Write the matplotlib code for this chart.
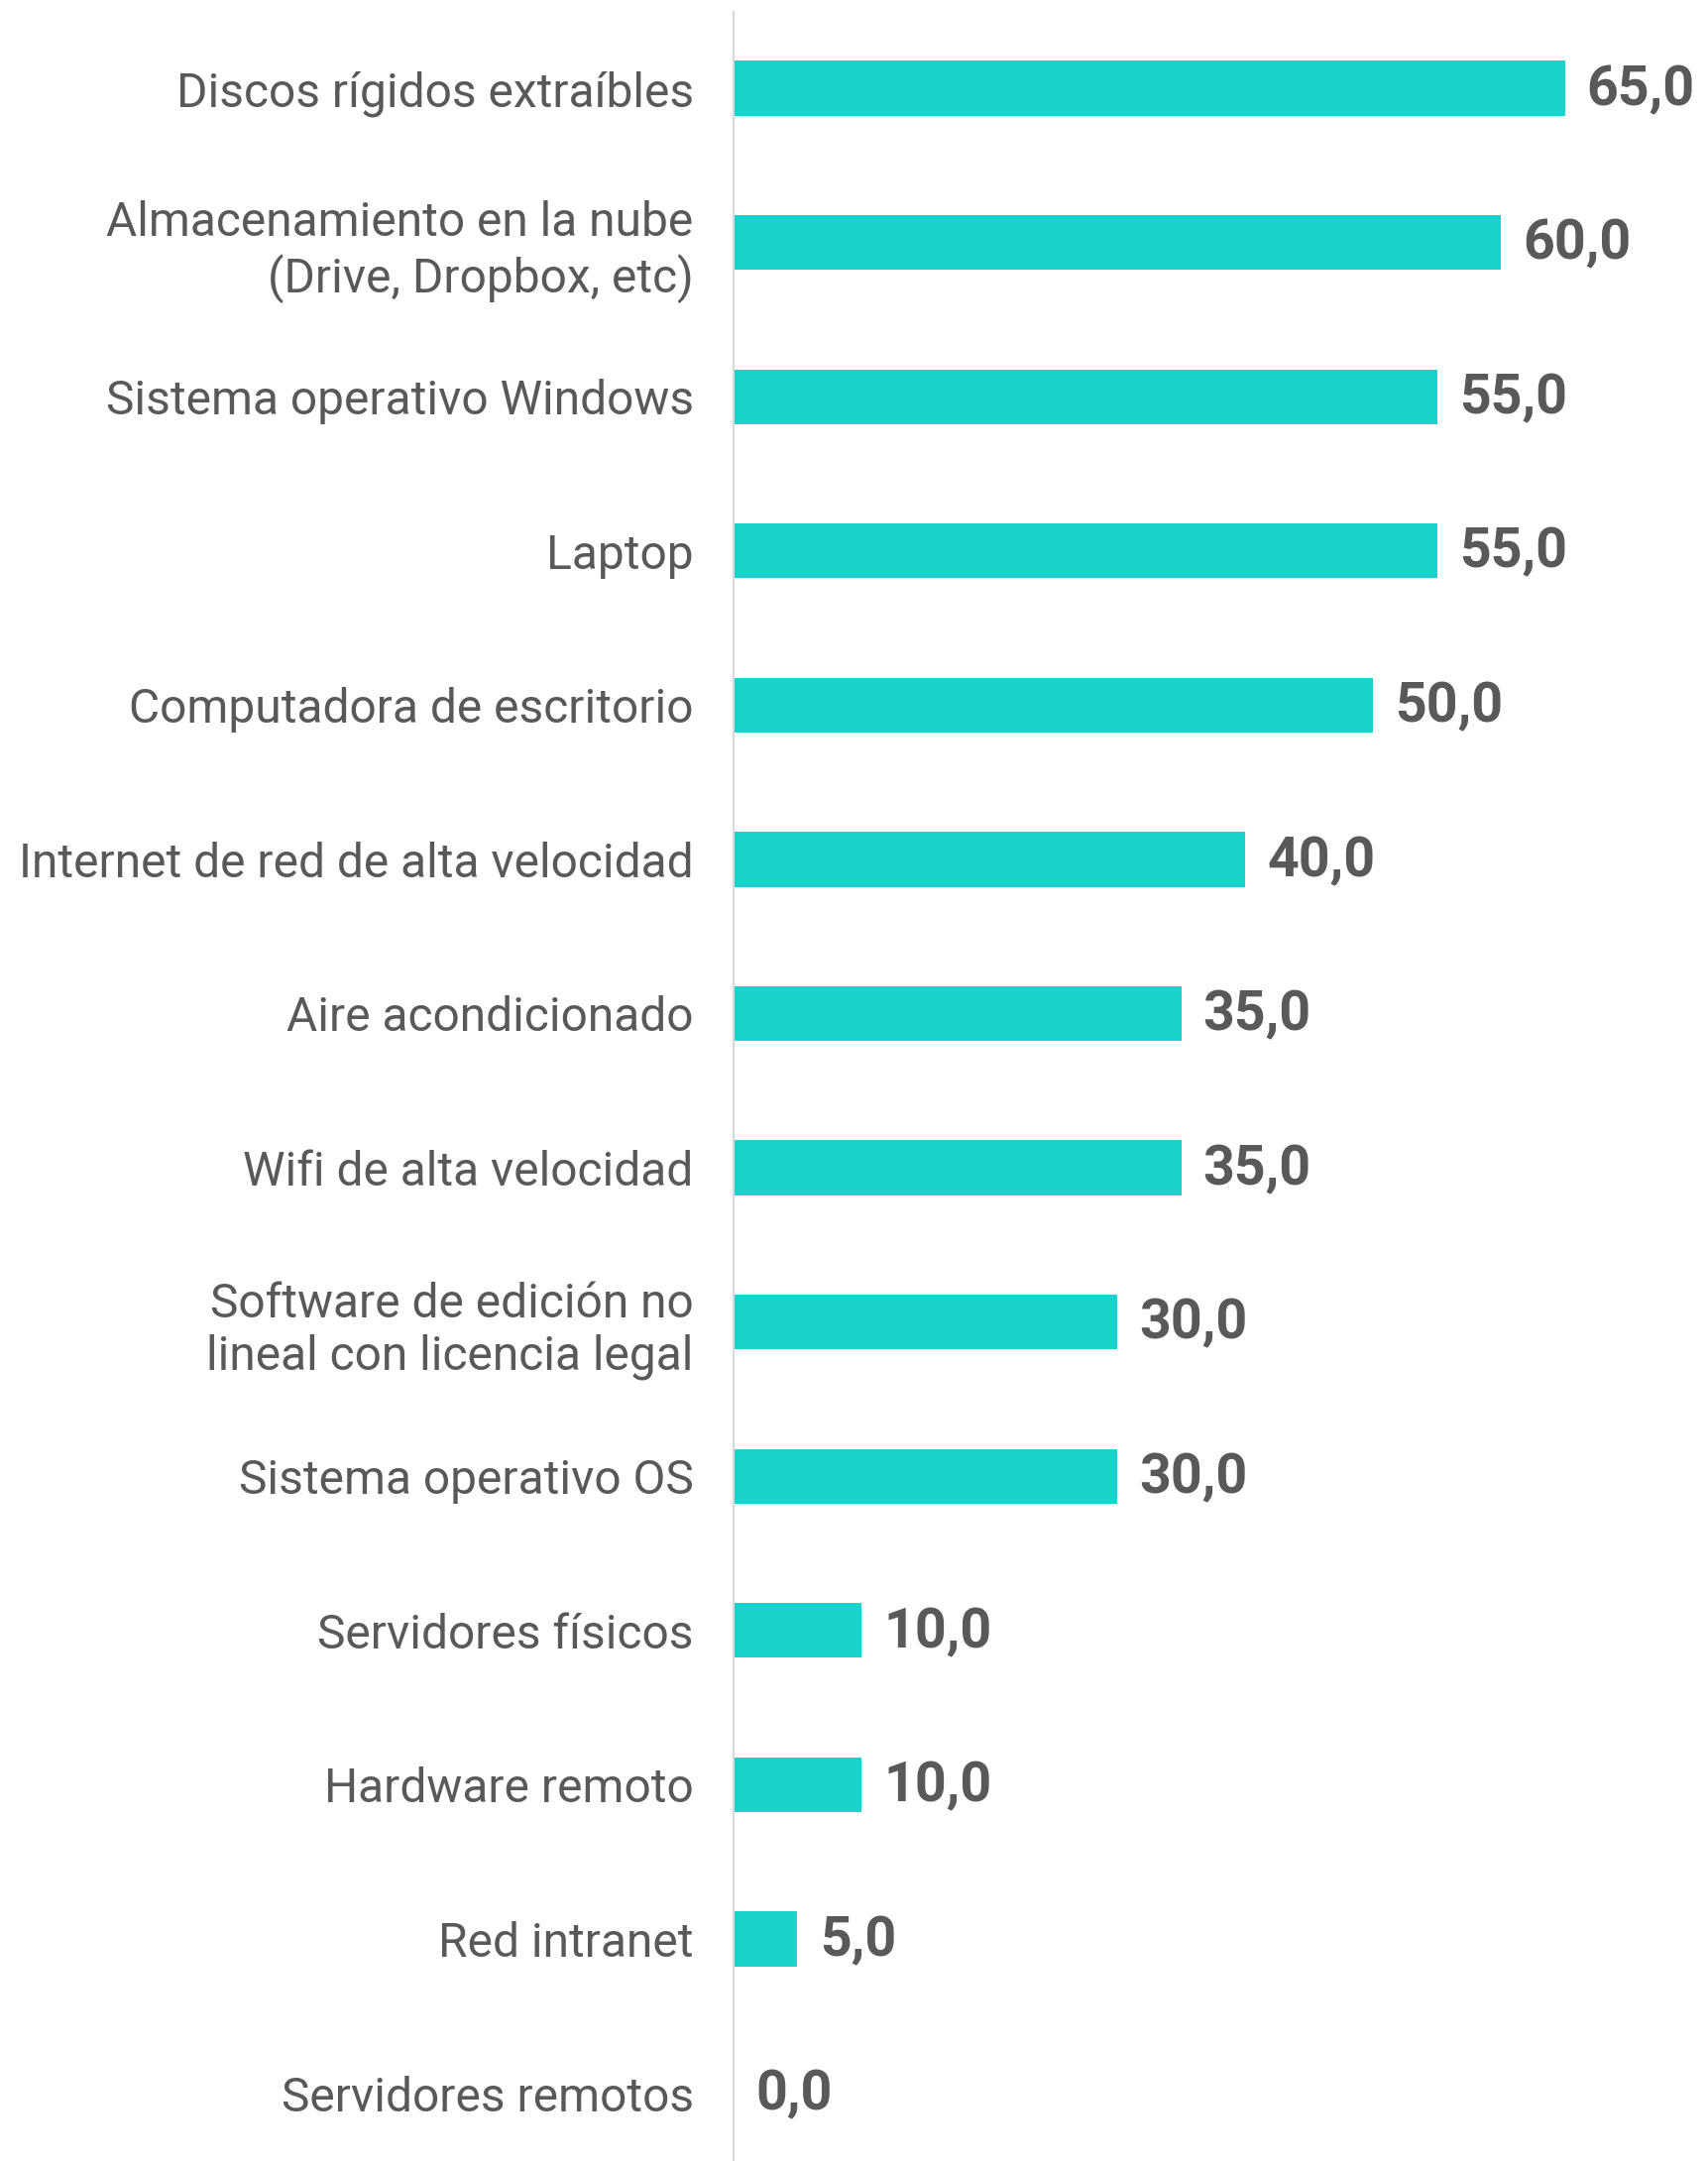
import matplotlib
matplotlib.use("Agg")
import matplotlib.pyplot as plt

categories = [
    "Discos rígidos extraíbles",
    "Almacenamiento en la nube\n(Drive, Dropbox, etc)",
    "Sistema operativo Windows",
    "Laptop",
    "Computadora de escritorio",
    "Internet de red de alta velocidad",
    "Aire acondicionado",
    "Wifi de alta velocidad",
    "Software de edición no\nlineal con licencia legal",
    "Sistema operativo OS",
    "Servidores físicos",
    "Hardware remoto",
    "Red intranet",
    "Servidores remotos",
]
values = [65.0, 60.0, 55.0, 55.0, 50.0, 40.0, 35.0, 35.0, 30.0, 30.0, 10.0, 10.0, 5.0, 0.0]

BAR_COLOR = "#19D2CC"
TEXT_COLOR = "#595959"
FONT = ["Roboto", "DejaVu Sans"]

W, H, DPI = 1724, 2180, 100
fig = plt.figure(figsize=(W / DPI, H / DPI), dpi=DPI)
ax = fig.add_axes([740 / W, 0, 1 - 740 / W, 1 - 12 / H])

pos = list(range(len(categories)))
ax.barh(pos, values, height=0.355, color=BAR_COLOR)
ax.set_xlim(0, 984 / 12.9)
ax.set_ylim(13.44, -0.495)

ax.set_yticks(pos)
ax.set_yticklabels(categories, fontsize=34.5, color=TEXT_COLOR, family=FONT,
                   linespacing=1.2)
ax.tick_params(axis="y", length=0, pad=29)
ax.set_xticks([])
for s in ["top", "right", "bottom"]:
    ax.spines[s].set_visible(False)
ax.spines["left"].set_color("#d9d9d9")
ax.spines["left"].set_linewidth(1.5)

for p, v in zip(pos, values):
    ax.annotate(f"{v:.1f}".replace(".", ","), xy=(v, p), xytext=(16, -1.5),
                textcoords="offset points", va="center", ha="left",
                fontsize=40, fontweight="bold", color=TEXT_COLOR, family=FONT)

fig.savefig("out.png", dpi=DPI)
